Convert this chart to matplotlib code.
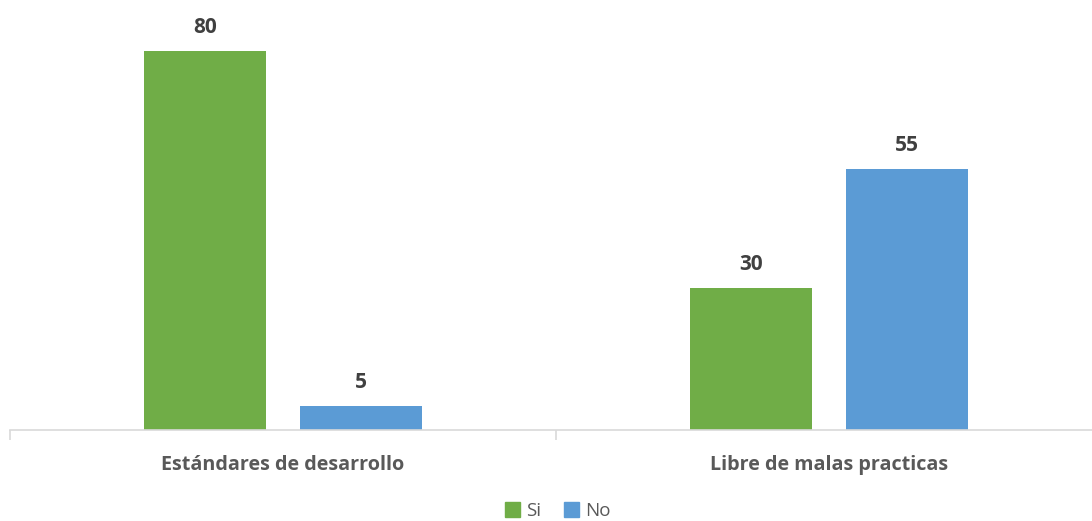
import numpy as np
import matplotlib.pyplot as plt
from matplotlib.patches import Patch

categories = ['Estándares de desarrollo', 'Libre de malas practicas']
si_values = [80, 30]
no_values = [5, 55]
series_names = ['Si', 'No']

green = '#70AD47'
blue = '#5B9BD5'

plt.rcParams['font.family'] = ['Open Sans', 'DejaVu Sans']

fig = plt.figure(figsize=(10.92, 5.21), dpi=100)
# axes runs past the right edge, like the original
ax = fig.add_axes([10 / 1092, 91 / 521, 1092 / 1092, 426.6 / 521])

x = np.arange(len(categories))
width = 0.2234
offset = 0.1426
bars_si = ax.bar(x - offset, si_values, width, color=green)
bars_no = ax.bar(x + offset, no_values, width, color=blue)

for bars in (bars_si, bars_no):
    for b in bars:
        ax.annotate(f'{b.get_height():g}', (b.get_x() + b.get_width() / 2, b.get_height()),
                    xytext=(0, 17), textcoords='offset points', ha='center', va='center',
                    fontsize=15, fontweight='bold', color='#404040')

ax.set_xlim(-0.5, 1.5)
ax.set_ylim(0, 90)
for s in ('top', 'right', 'left'):
    ax.spines[s].set_visible(False)
ax.spines['bottom'].set_color('#D9D9D9')
ax.spines['bottom'].set_linewidth(1.2)
ax.set_yticks([])
ax.set_xticks([-0.5, 0.5, 1.5])
ax.set_xticklabels([])
ax.tick_params(axis='x', length=7, color='#D9D9D9', width=1.2)
ax.set_xticks(x, minor=True)
ax.set_xticklabels(categories, minor=True, fontsize=14.2, fontweight='bold', color='#595959')
ax.tick_params(axis='x', which='minor', length=0, pad=18)

handles = [Patch(color=green), Patch(color=blue)]
fig.legend(handles, series_names, loc='center', bbox_to_anchor=(558 / 1092, 10 / 521),
           ncol=2, frameon=False, fontsize=13.5, handlelength=0.8, handleheight=0.8,
           handletextpad=0.35, columnspacing=1.2, labelcolor='#595959')

fig.savefig('out.png', dpi=100)
